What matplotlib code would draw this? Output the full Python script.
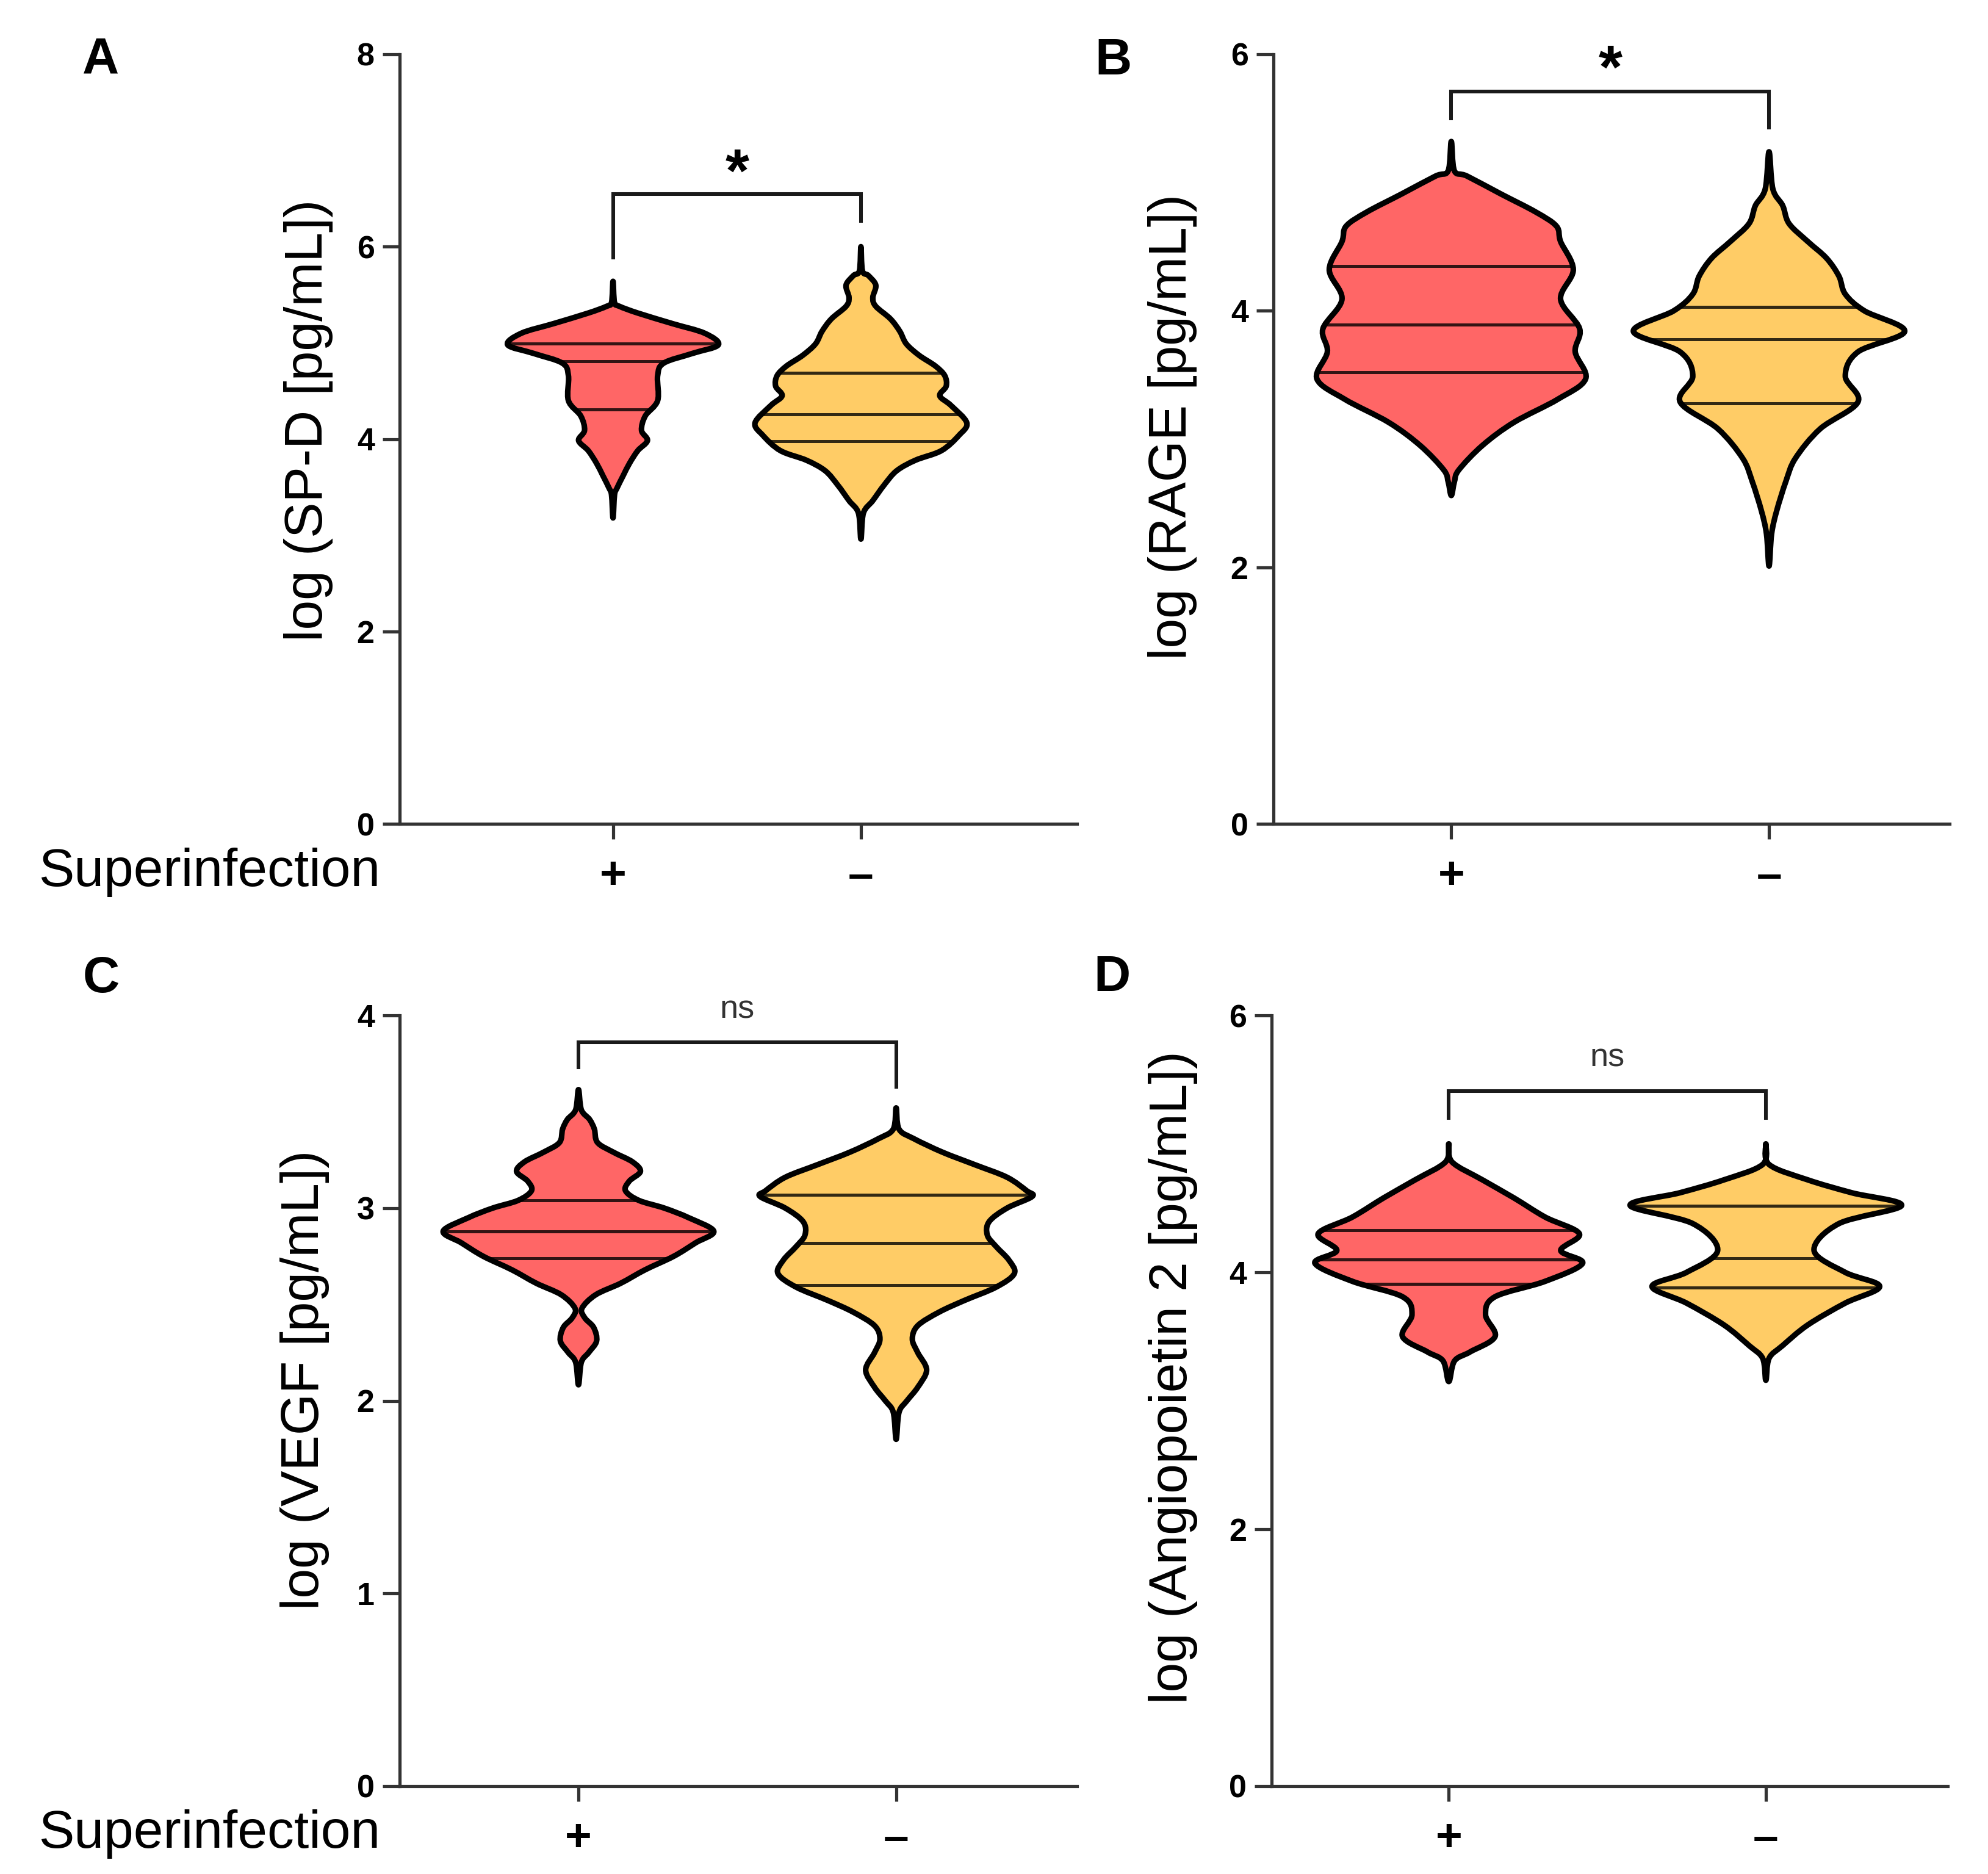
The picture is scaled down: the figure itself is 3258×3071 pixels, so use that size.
import matplotlib
matplotlib.use("Agg")
import matplotlib.pyplot as plt
import numpy as np
from matplotlib.path import Path
from matplotlib.patches import PathPatch
from matplotlib import font_manager

# ---------------- data ----------------
groups = ["+", "–"]
group_colors = ["#FF6666", "#FFCC66"]

panel_letters = ["A", "B", "C", "D"]
y_labels = ["log (SP-D [pg/mL])", "log (RAGE [pg/mL])",
            "log (VEGF [pg/mL])", "log (Angiopoietin 2 [pg/mL])"]
y_max = [8, 6, 4, 6]
y_ticks = [[0, 2, 4, 6, 8], [0, 2, 4, 6], [0, 1, 2, 3, 4], [0, 2, 4, 6]]

# violin outlines: levels (top tip -> bottom tip) and half widths (category units)
spd_pos_y = [5.64, 5.42, 5.38, 5.31, 5.20, 5.10, 4.98, 4.89, 4.79, 4.66, 4.40, 4.24,
             4.09, 3.985, 3.88, 3.75, 3.62, 3.49, 3.42, 3.18]
spd_pos_w = [0, 0.006, 0.026, 0.10, 0.24, 0.37, 0.425, 0.32, 0.205, 0.18, 0.18, 0.13,
             0.115, 0.139, 0.10, 0.067, 0.041, 0.016, 0.006, 0]
spd_neg_y = [6.00, 5.75, 5.70, 5.60, 5.47, 5.38, 5.25, 5.12, 4.99, 4.87, 4.76, 4.66,
             4.55, 4.45, 4.35, 4.17, 4.04, 3.88, 3.78, 3.67, 3.52, 3.36, 3.23, 2.96]
spd_neg_w = [0, 0.006, 0.03, 0.06, 0.048, 0.06, 0.119, 0.157, 0.183, 0.235, 0.30, 0.338,
             0.344, 0.318, 0.363, 0.427, 0.396, 0.325, 0.22, 0.144, 0.093, 0.048, 0.01, 0]

rage_pos_y = [5.32, 5.09, 5.05, 4.91, 4.77, 4.66, 4.54, 4.32, 4.09, 3.86, 3.68, 3.47,
              3.31, 3.13, 2.95, 2.76, 2.67, 2.56]
rage_pos_w = [0, 0.01, 0.05, 0.157, 0.266, 0.331, 0.344, 0.384, 0.344, 0.404, 0.39, 0.423,
              0.335, 0.197, 0.098, 0.024, 0.01, 0]
rage_neg_y = [5.24, 4.95, 4.82, 4.68, 4.54, 4.41, 4.27, 4.13, 4.00, 3.84, 3.68, 3.49,
              3.29, 3.08, 2.85, 2.67, 2.44, 2.26, 2.01]
rage_neg_w = [0, 0.012, 0.043, 0.063, 0.122, 0.181, 0.22, 0.24, 0.30, 0.427, 0.28, 0.24,
              0.28, 0.161, 0.083, 0.053, 0.024, 0.008, 0]

vegf_pos_y = [3.615, 3.51, 3.46, 3.41, 3.34, 3.29, 3.24, 3.19, 3.14, 3.09, 3.04, 3.00,
              2.95, 2.88, 2.82, 2.75, 2.68, 2.61, 2.55, 2.48, 2.43, 2.38, 2.31, 2.25,
              2.20, 2.083]
vegf_pos_w = [0, 0.009, 0.035, 0.05, 0.06, 0.11, 0.17, 0.195, 0.16, 0.148, 0.19, 0.27,
              0.347, 0.426, 0.369, 0.30, 0.21, 0.133, 0.054, 0.011, 0.02, 0.048, 0.057,
              0.032, 0.009, 0]
vegf_neg_y = [3.52, 3.41, 3.36, 3.29, 3.225, 3.16, 3.09, 3.06, 3.00, 2.93, 2.86, 2.80,
              2.73, 2.66, 2.59, 2.52, 2.46, 2.39, 2.32, 2.25, 2.16, 2.07, 2.00, 1.94, 1.80]
vegf_neg_w = [0, 0.009, 0.056, 0.146, 0.248, 0.349, 0.411, 0.428, 0.349, 0.293, 0.287,
              0.315, 0.355, 0.372, 0.315, 0.214, 0.135, 0.068, 0.051, 0.068, 0.096,
              0.068, 0.034, 0.009, 0]

ang_pos_y = [5.00, 4.86, 4.72, 4.58, 4.43, 4.30, 4.17, 4.07, 3.93, 3.81, 3.67, 3.50,
             3.38, 3.31, 3.15]
ang_pos_w = [0, 0.01, 0.106, 0.205, 0.304, 0.412, 0.353, 0.422, 0.304, 0.146, 0.116,
             0.146, 0.067, 0.018, 0]
ang_neg_y = [5.00, 4.84, 4.72, 4.62, 4.52, 4.38, 4.17, 4.00, 3.89, 3.76, 3.59, 3.43,
             3.33, 3.16]
ang_neg_w = [0, 0.01, 0.132, 0.27, 0.428, 0.231, 0.152, 0.25, 0.359, 0.25, 0.132, 0.053,
             0.01, 0]

# quartiles (Q1, median, Q3)
spd_quart = [[4.31, 4.81, 4.99], [3.98, 4.26, 4.69]]
rage_quart = [[3.52, 3.89, 4.35], [3.28, 3.78, 4.03]]
vegf_quart = [[2.74, 2.88, 3.04], [2.60, 2.82, 3.07]]
ang_quart = [[3.91, 4.10, 4.33], [3.88, 4.11, 4.52]]

# significance brackets: top, left leg end, right leg end, label, label level
bracket_top = [6.55, 5.71, 3.86, 5.41]
bracket_left = [5.89, 5.50, 3.73, 5.20]
bracket_right = [6.27, 5.43, 3.63, 5.20]
sig_labels = ["*", "*", "ns", "ns"]
sig_label_y = [6.87, 5.96, 4.03, 5.67]

# ---------------- style ----------------
names = {f.name for f in font_manager.fontManager.ttflist}
narrow = "Liberation Sans Narrow" if "Liberation Sans Narrow" in names else "Liberation Sans"
plt.rcParams["font.family"] = ["Liberation Sans", "DejaVu Sans"]

W, H = 3258, 3071
fig = plt.figure(figsize=(W / 300, H / 300), dpi=300)
fig.patch.set_facecolor("white")

# axes boxes in pixels: left, top, right, bottom
boxes = [(655, 89, 1765, 1350), (2087, 89, 3195, 1350),
         (655, 1664, 1765, 2927), (2084, 1664, 3192, 2927)]
cat_frac = [(0.315, 0.681), (0.263, 0.733), (0.264, 0.733), (0.262, 0.731)]
label_pos = [(-0.135, 0.524), (-0.149, 0.516), (-0.14, 0.527), (-0.146, 0.53)]
letter_pos = [(165, 98), (1825, 100), (166, 1604), (1822, 1602)]

violins = [
    [(spd_pos_y, spd_pos_w), (spd_neg_y, spd_neg_w)],
    [(rage_pos_y, rage_pos_w), (rage_neg_y, rage_neg_w)],
    [(vegf_pos_y, vegf_pos_w), (vegf_neg_y, vegf_neg_w)],
    [(ang_pos_y, ang_pos_w), (ang_neg_y, ang_neg_w)],
]
quarts = [spd_quart, rage_quart, vegf_quart, ang_quart]


def violin_path(pos, ys, ws):
    ys = list(ys); ws = list(ws)
    n = len(ys)
    pts = [(pos, ys[0])]
    for i in range(1, n - 1):
        pts.append((pos + ws[i], ys[i]))
    pts.append((pos, ys[-1]))
    for i in range(n - 2, 0, -1):
        pts.append((pos - ws[i], ys[i]))
    P = np.array(pts)
    m = len(P)
    verts = [P[0]]
    codes = [Path.MOVETO]
    for i in range(m):
        p0, p1, p2, p3 = P[i - 1], P[i], P[(i + 1) % m], P[(i + 2) % m]
        c1 = p1 + (p2 - p0) / 6.0
        c2 = p2 - (p3 - p1) / 6.0
        lo, hi = min(p1[1], p2[1]), max(p1[1], p2[1])
        c1[1] = np.clip(c1[1], lo, hi)
        c2[1] = np.clip(c2[1], lo, hi)
        verts += [c1, c2, p2]
        codes += [Path.CURVE4] * 3
    verts.append(P[0])
    codes.append(Path.CLOSEPOLY)
    return Path(np.array(verts), codes)


for k in range(4):
    l, t, r, b = boxes[k]
    ax = fig.add_axes([l / W, 1 - b / H, (r - l) / W, (b - t) / H])
    f0, f1 = cat_frac[k]
    span = 1.0 / (f1 - f0)
    left = -f0 * span
    ax.set_xlim(left, left + span)
    ax.set_ylim(0, y_max[k])
    for s in ["top", "right"]:
        ax.spines[s].set_visible(False)
    for s in ["left", "bottom"]:
        ax.spines[s].set_linewidth(1.25)
        ax.spines[s].set_color("#333333")
    ax.set_yticks(y_ticks[k])
    ax.set_yticklabels([str(v) for v in y_ticks[k]], fontfamily=narrow,
                       fontweight="bold", fontsize=12.5)
    ax.tick_params(axis="y", length=6.7, width=1.25, pad=3.2, color="#333333")
    ax.set_xticks([0, 1])
    ax.set_xticklabels(groups, fontsize=18, fontweight="bold")
    ax.tick_params(axis="x", length=6, width=1.25, pad=6.5, color="#333333")

    for g in range(2):
        ys, ws = violins[k][g]
        path = violin_path(g, ys, ws)
        fill = PathPatch(path, facecolor=group_colors[g], edgecolor="none", zorder=2)
        ax.add_patch(fill)
        for q in quarts[k][g]:
            ln = ax.hlines(q, g - 0.6, g + 0.6, colors="black", alpha=0.8,
                           linewidth=1.2, zorder=3)
            ln.set_clip_path(fill)
        outline = PathPatch(path, facecolor="none", edgecolor="black", linewidth=2.2,
                            joinstyle="round", zorder=4)
        ax.add_patch(outline)

    ax.plot([0, 0, 1, 1], [bracket_left[k], bracket_top[k], bracket_top[k], bracket_right[k]],
            color="#1a1a1a", linewidth=1.45, clip_on=False, solid_joinstyle="miter", zorder=5)
    if sig_labels[k] == "*":
        ax.annotate("*", xy=(0.5, sig_label_y[k]), xytext=(0, -0.57 * 24 + 2.5),
                    textcoords="offset points", ha="center", va="baseline",
                    fontsize=24, fontweight="bold", annotation_clip=False)
    else:
        ax.annotate("ns", xy=(0.5, sig_label_y[k]), xytext=(0, -0.26 * 13),
                    textcoords="offset points", ha="center", va="baseline",
                    fontsize=13, color="#333333", annotation_clip=False)

    ax.text(label_pos[k][0], label_pos[k][1], y_labels[k], transform=ax.transAxes,
            rotation=90, ha="center", va="center", fontsize=21)

    lx, ly = letter_pos[k]
    fig.text(lx / W, 1 - ly / H, panel_letters[k], fontsize=20, fontweight="bold",
             ha="center", va="center")

fig.text(63 / W, 1 - 1430 / H, "Superinfection", fontsize=21, ha="left", va="center")
fig.text(63 / W, 1 - 3005 / H, "Superinfection", fontsize=21, ha="left", va="center")

fig.savefig("out.png", dpi=300, facecolor="white")
